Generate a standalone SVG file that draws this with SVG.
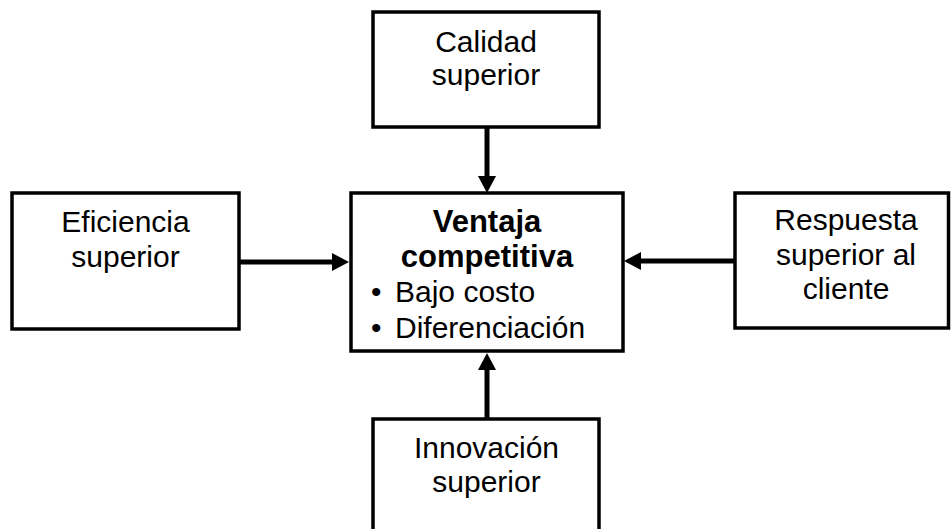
<svg xmlns="http://www.w3.org/2000/svg" width="951" height="529" viewBox="0 0 951 529">
<style>
.box{fill:#fff;stroke:#000;stroke-width:3.5}
.t{font-family:"Liberation Sans",Arial,sans-serif;font-size:30px;fill:#000;text-anchor:middle}
.b{font-weight:bold;font-size:31px}
.l{text-anchor:start}
.c{stroke:#000;stroke-width:5;fill:none}
</style>
<defs>
<marker id="ah" markerUnits="userSpaceOnUse" markerWidth="17" markerHeight="18" viewBox="0 0 17 18" refX="0" refY="9" orient="auto">
<path d="M0,0 L17,9 L0,18 z" fill="#000"/>
</marker>
</defs>
<g id="connectors">
<line class="c" x1="487" y1="127" x2="487" y2="176" marker-end="url(#ah)"/>
<line class="c" x1="239" y1="262" x2="332" y2="262" marker-end="url(#ah)"/>
<line class="c" x1="735" y1="261" x2="641" y2="261" marker-end="url(#ah)"/>
<line class="c" x1="487" y1="419" x2="487" y2="370" marker-end="url(#ah)"/>
</g>
<g id="calidad">
<rect class="box" x="373" y="12" width="226" height="115"/>
<text class="t" x="486" y="52">Calidad</text>
<text class="t" x="486" y="85">superior</text>
</g>
<g id="eficiencia">
<rect class="box" x="12" y="193" width="227" height="136"/>
<text class="t" x="125.5" y="232">Eficiencia</text>
<text class="t" x="125.5" y="267">superior</text>
</g>
<g id="ventaja">
<rect class="box" x="351" y="193" width="272" height="158"/>
<text class="t b" x="487" y="232">Ventaja</text>
<text class="t b" x="487" y="267">competitiva</text>
<text class="t l" x="371" y="302">•<tspan x="395">Bajo costo</tspan></text>
<text class="t l" x="371" y="338">•<tspan x="395">Diferenciación</tspan></text>
</g>
<g id="respuesta">
<rect class="box" x="735" y="193" width="213.5" height="135"/>
<text class="t" x="846" y="230">Respuesta</text>
<text class="t" x="846" y="265">superior al</text>
<text class="t" x="846" y="299">cliente</text>
</g>
<g id="innovacion">
<rect class="box" x="373" y="419" width="226" height="140"/>
<text class="t" x="486.5" y="458">Innovación</text>
<text class="t" x="486.5" y="492">superior</text>
</g>
</svg>
